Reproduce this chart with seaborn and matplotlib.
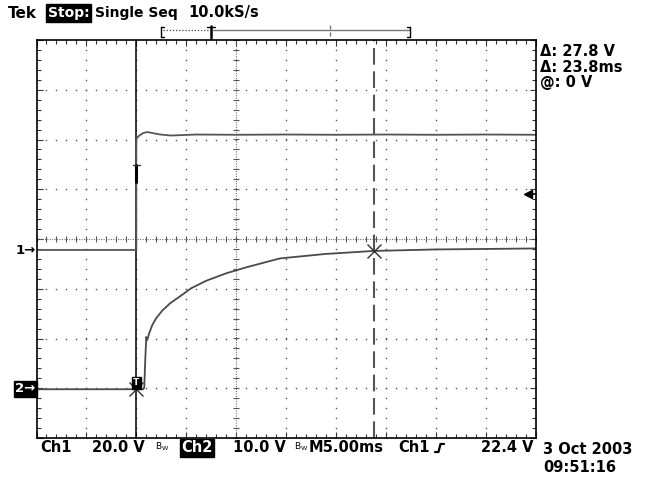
import numpy as np
import pandas as pd
import matplotlib
matplotlib.use("Agg")
import matplotlib.pyplot as plt
import seaborn as sns
from matplotlib.ticker import MultipleLocator
from matplotlib.lines import Line2D

# ---------------- data ----------------
ch1_t = [-10.0, 0.0, 0.0, 0.3, 0.7, 1.1, 1.6, 2.4, 3.5, 6.0, 10.0, 15.0, 20.0, 25.0, 30.0, 35.0, 40.0]
ch1_v = [0.0, 0.0, 44.7, 46.0, 47.0, 47.4, 47.0, 46.4, 46.0, 46.4, 46.3, 46.4, 46.3, 46.4, 46.3, 46.4, 46.3]
ch2_t = [-10.0, 0.0, 0.7, 0.8, 0.9, 1.0, 1.1, 1.3, 1.6, 2.0, 2.6, 3.4, 4.4, 5.5, 7.0, 9.0,
         11.0, 14.4, 19.0, 23.8, 30.0, 40.0]
ch2_v = [0.0, 0.0, 0.0, 0.4, 6.1, 10.5, 9.9, 11.3, 12.9, 14.3, 15.8, 17.3, 18.7, 20.3, 21.8, 23.3,
         24.5, 26.3, 27.2, 27.8, 28.1, 28.3]

ms_per_div = 5.0
ch1_v_per_div = 20.0
ch2_v_per_div = 10.0
ch1_offset_div = -0.22
ch2_offset_div = -3.02
time_window = (-10.0, 40.0)

cursor_t = [0.0, 23.8]
cursor_v = [0.0, 27.8]          # on Ch2
trigger_level = 22.4            # Ch1

header = ["Tek", "Stop:", "Single Seq", "10.0kS/s"]
readout = ["\u0394: 27.8 V", "\u0394: 23.8ms", "@: 0 V"]
bottom_row = ["Ch1", "20.0 V", "Ch2", "10.0 V", "M5.00ms", "Ch1", "22.4 V"]
date_lines = ["3 Oct 2003", "09:51:16"]

# ---------------- build table ----------------
df = pd.concat([
    pd.DataFrame({"t": ch1_t, "v": ch1_v, "ch": "Ch1"}),
    pd.DataFrame({"t": ch2_t, "v": ch2_v, "ch": "Ch2"}),
], ignore_index=True)
scale = {"Ch1": ch1_v_per_div, "Ch2": ch2_v_per_div}
offs = {"Ch1": ch1_offset_div, "Ch2": ch2_offset_div}
df["div"] = df["v"] / df["ch"].map(scale) + df["ch"].map(offs)

sns.set_style("white")
plt.rcParams["font.family"] = ["DejaVu Sans"]
plt.rcParams["text.color"] = "black"

W, H = 647, 478
fig = plt.figure(figsize=(W / 100, H / 100), dpi=100)
fig.patch.set_facecolor("white")
ax = fig.add_axes([36.5 / W, 40 / H, 499 / W, 398 / H])
ax.set_xlim(*time_window)
ax.set_ylim(-4, 4)


def fx(x):
    return x / W


def fy(y):
    return 1 - y / H


def ftxt(x, y, s, **kw):
    kw.setdefault("va", "center")
    kw.setdefault("ha", "left")
    kw.setdefault("fontsize", 10.5)
    kw.setdefault("fontweight", "bold")
    return fig.text(fx(x), fy(y), s, **kw)


# ---------------- graticule ----------------
gcol = "#555555"
ys = np.arange(-4, 4.001, 0.2)
for tv in [-5, 0, 5, 15, 20, 25, 30, 35]:
    ax.plot(np.full_like(ys, tv), ys, ls="none", marker="s", ms=1.0, color=gcol, mew=0)
ts = np.arange(-10, 40.001, 1.0)
for yv in [-3, -2, -1, 1, 2, 3]:
    ax.plot(ts, np.full_like(ts, yv), ls="none", marker="s", ms=1.0, color=gcol, mew=0)
# center cross
ax.axhline(0, color="#777777", lw=0.8, ls=(0, (1, 1.2)))
ax.axvline(10, color="#777777", lw=0.8, ls=(0, (1, 1.2)))
ax.plot(ts, np.zeros_like(ts), ls="none", marker="|", ms=5, mew=0.8, color=gcol)
ax.plot(np.full_like(ys, 10.0), ys, ls="none", marker="_", ms=5, mew=0.8, color=gcol)

ax.xaxis.set_major_locator(MultipleLocator(ms_per_div))
ax.xaxis.set_minor_locator(MultipleLocator(1))
ax.yaxis.set_major_locator(MultipleLocator(1))
ax.yaxis.set_minor_locator(MultipleLocator(0.2))
ax.tick_params(which="both", direction="in", top=True, right=True, bottom=True, left=True,
               labelbottom=False, labelleft=False, color="#333333", width=0.8)
ax.tick_params(which="major", length=4)
ax.tick_params(which="minor", length=3)
for sp in ax.spines.values():
    sp.set_color("black")
    sp.set_linewidth(1.2)

# ---------------- cursors ----------------
ax.axvline(cursor_t[0], color="black", lw=1.1)
ax.axvline(cursor_t[1], color="#555555", lw=1.5, dashes=(8, 3.2))

# ---------------- traces ----------------
sns.lineplot(data=df, x="t", y="div", hue="ch", palette={"Ch1": "#555555", "Ch2": "#4a4a4a"},
             estimator=None, sort=False, legend=False, lw=1.3, ax=ax)
ax.set_xlabel("")
ax.set_ylabel("")

# cursor X marks on Ch2
cdiv = [v / ch2_v_per_div + ch2_offset_div for v in cursor_v]
ax.plot(cursor_t, cdiv, ls="none", marker="x", ms=10, mew=1.0, color="#333333")

# small mark on Ch1 edge
ax.plot([0, 0], [1.15, 1.49], color="black", lw=2.2)
ax.plot([-0.35, 0.35], [1.49, 1.49], color="#333333", lw=1.0)

# trigger point box on Ch2
ax.text(0, ch2_offset_div + 0.13, "T", color="white", fontsize=6.5, fontweight="bold",
        ha="center", va="center",
        bbox=dict(boxstyle="square,pad=0.15", fc="black", ec="black"))

# trigger level arrow on the right edge
tl = trigger_level / ch1_v_per_div + ch1_offset_div
ax.plot([39.2, 40], [tl, tl], color="black", lw=1.2, clip_on=False)
ax.plot([39.2], [tl], ls="none", marker="<", ms=6, color="black", clip_on=False)

# ---------------- texts ----------------
ftxt(8, 13, header[0], fontsize=11)
ftxt(48, 13, header[1], color="white", fontsize=10,
     bbox=dict(boxstyle="square,pad=0.12", fc="black", ec="black"))
ftxt(95, 13, header[2], fontsize=10)
ftxt(188, 13, header[3], fontsize=10.5)

# record bar at top
bar_y = 30
fig.add_artist(Line2D([fx(163), fx(209)], [fy(bar_y), fy(bar_y)], color="#444444", lw=0.9,
                      ls=(0, (1, 1.5))))
fig.add_artist(Line2D([fx(213), fx(409)], [fy(bar_y), fy(bar_y)], color="#777777", lw=1.0))
for bx, d in [(161, 1), (410, -1)]:
    fig.add_artist(Line2D([fx(bx), fx(bx)], [fy(27), fy(37)], color="black", lw=1.0))
    fig.add_artist(Line2D([fx(bx), fx(bx + 3 * d)], [fy(27), fy(27)], color="black", lw=1.0))
    fig.add_artist(Line2D([fx(bx), fx(bx + 3 * d)], [fy(37), fy(37)], color="black", lw=1.0))
fig.add_artist(Line2D([fx(211), fx(211)], [fy(26), fy(38)], color="black", lw=1.8))
fig.add_artist(Line2D([fx(207), fx(215)], [fy(27), fy(27)], color="black", lw=1.0))
fig.add_artist(Line2D([fx(330), fx(330)], [fy(25), fy(38)], color="#777777", lw=1.0,
                      ls=(0, (3, 2))))

# readouts
for i, s in enumerate(readout):
    ftxt(540, 52 + i * 15.5, s, fontsize=10.5)

# channel markers
ftxt(16, 250, "1\u2192", fontsize=9.5)
ftxt(15, 389, "2\u2192", fontsize=9.5, color="white",
     bbox=dict(boxstyle="square,pad=0.1", fc="black", ec="black"))

# bottom row
by = 448
ftxt(40, by, bottom_row[0])
ftxt(92, by, bottom_row[1])
ftxt(155, by - 1, r"$\mathregular{B_W}$", fontsize=6.5, fontweight="normal")
ftxt(181, by, bottom_row[2], color="white",
     bbox=dict(boxstyle="square,pad=0.1", fc="black", ec="black"))
ftxt(233, by, bottom_row[3])
ftxt(294, by - 1, r"$\mathregular{B_W}$", fontsize=6.5, fontweight="normal")
ftxt(309, by, bottom_row[4])
ftxt(398, by, bottom_row[5])
fig.add_artist(Line2D([fx(435), fx(438.5), fx(440.5), fx(444)],
                      [fy(452), fy(452), fy(444), fy(444)], color="black", lw=1.6))
ftxt(481, by, bottom_row[6])

ftxt(543, 450, date_lines[0])
ftxt(543, 468, date_lines[1])

fig.savefig("out.png", dpi=100, facecolor="white")
